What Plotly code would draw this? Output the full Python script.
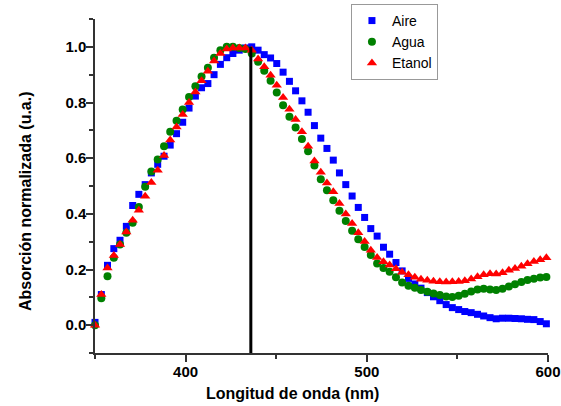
import plotly.graph_objects as go

wavelength_nm = [350.0, 353.5, 356.9, 360.4, 363.8, 367.3, 370.8, 374.2, 377.7, 381.1,
                 384.6, 388.1, 391.5, 395.0, 398.4, 401.9, 405.4, 408.8, 412.3, 415.7,
                 419.2, 422.7, 426.1, 429.6, 433.0, 436.5, 440.0, 443.4, 446.9, 450.3,
                 453.8, 457.3, 460.7, 464.2, 467.6, 471.1, 474.6, 478.0, 481.5, 484.9,
                 488.4, 491.9, 495.3, 498.8, 502.2, 505.7, 509.2, 512.6, 516.1, 519.5,
                 523.0, 526.5, 529.9, 533.4, 536.8, 540.3, 543.8, 547.2, 550.7, 554.1,
                 557.6, 561.1, 564.5, 568.0, 571.4, 574.9, 578.4, 581.8, 585.3, 588.7,
                 592.2, 595.7, 599.1]

aire = [0.01, 0.11, 0.215, 0.275, 0.305, 0.355, 0.43, 0.47, 0.505, 0.547,
        0.578, 0.607, 0.647, 0.688, 0.729, 0.78, 0.823, 0.853, 0.868, 0.90,
        0.937, 0.961, 0.976, 0.988, 0.996, 1.0, 0.988, 0.972, 0.96, 0.94,
        0.909, 0.876, 0.842, 0.806, 0.765, 0.717, 0.672, 0.635, 0.593, 0.547,
        0.505, 0.464, 0.423, 0.387, 0.347, 0.32, 0.28, 0.255, 0.225, 0.195,
        0.168, 0.148, 0.133, 0.117, 0.102, 0.088, 0.074, 0.063, 0.056, 0.049,
        0.045, 0.039, 0.033, 0.027, 0.023, 0.025, 0.025, 0.024, 0.023, 0.021,
        0.02, 0.013, 0.005]

agua = [0.0, 0.097, 0.176, 0.242, 0.29, 0.332, 0.368, 0.425, 0.497, 0.552,
        0.595, 0.643, 0.695, 0.734, 0.775, 0.82, 0.858, 0.893, 0.925, 0.961,
        0.988, 1.0, 1.0, 0.996, 0.992, 0.976, 0.946, 0.914, 0.878, 0.836,
        0.79, 0.749, 0.71, 0.669, 0.625, 0.574, 0.524, 0.485, 0.449, 0.411,
        0.374, 0.339, 0.309, 0.281, 0.252, 0.222, 0.205, 0.192, 0.172, 0.153,
        0.142, 0.134, 0.126, 0.12, 0.114, 0.108, 0.103, 0.101, 0.106, 0.113,
        0.121, 0.128, 0.131, 0.128, 0.126, 0.131, 0.139, 0.147, 0.155, 0.162,
        0.167, 0.171, 0.173]

etanol = [0.0, 0.11, 0.205, 0.25, 0.29, 0.335, 0.377, 0.413, 0.463, 0.513,
          0.557, 0.61, 0.665, 0.712, 0.757, 0.8, 0.838, 0.878, 0.912, 0.949,
          0.976, 0.992, 0.996, 0.996, 0.996, 0.988, 0.956, 0.928, 0.898, 0.862,
          0.818, 0.776, 0.739, 0.695, 0.643, 0.59, 0.549, 0.511, 0.479, 0.437,
          0.399, 0.365, 0.332, 0.301, 0.269, 0.243, 0.228, 0.216, 0.203, 0.19,
          0.181, 0.172, 0.165, 0.161, 0.158, 0.156, 0.155, 0.156, 0.157, 0.16,
          0.166, 0.174, 0.181, 0.185, 0.184, 0.188, 0.197, 0.204, 0.212, 0.221,
          0.229, 0.235, 0.242]

peak_line_x = [436.0, 436.0]
peak_line_y = [-0.1, 1.0]

series_names = ["Aire", "Agua", "Etanol"]
x_ticks = [400, 500, 600]
y_ticks = [0.0, 0.2, 0.4, 0.6, 0.8, 1.0]

FONT = "Arial, 'Liberation Sans', sans-serif"

fig = go.Figure()
styles = [("square", 7, "#0000FF", aire),
          ("circle", 8, "#008000", agua),
          ("triangle-up", 9, "#FF0000", etanol)]
for name, (sym, size, col, vals) in zip(series_names, styles):
    fig.add_trace(go.Scatter(
        x=wavelength_nm, y=vals, mode="markers", name=name,
        marker=dict(symbol=sym, size=size, color=col, line=dict(width=0)),
        cliponaxis=False))

fig.add_trace(go.Scatter(x=peak_line_x, y=peak_line_y, mode="lines",
                         line=dict(color="black", width=3), showlegend=False,
                         hoverinfo="skip"))

axis_common = dict(showgrid=False, zeroline=False, showline=True,
                   linecolor="#333333", linewidth=1.5, ticks="outside",
                   ticklen=7, tickwidth=1.5, tickcolor="#333333",
                   tickfont=dict(family=FONT, size=15, color="black", weight="bold"),
                   mirror=False, automargin=False, ticklabelstandoff=-3)

fig.update_xaxes(range=[350, 600], tickvals=x_ticks,
                 ticktext=[str(v) for v in x_ticks],
                 minor=dict(ticks="outside", ticklen=4, dtick=50, tick0=350,
                            tickcolor="#333333", tickwidth=1.5),
                 **axis_common)
fig.update_yaxes(range=[-0.1, 1.1], tickvals=y_ticks,
                 ticktext=[f"{v:.1f}" for v in y_ticks],
                 minor=dict(ticks="outside", ticklen=4, dtick=0.1, tick0=-0.1,
                            tickcolor="#333333", tickwidth=1.5),
                 **axis_common)

fig.update_layout(
    width=561, height=406,
    margin=dict(l=95, r=13, t=19, b=53, autoexpand=False),
    plot_bgcolor="white", paper_bgcolor="white",
    font=dict(family=FONT, color="black"),
    legend=dict(x=0.565, y=1.045, xanchor="left", yanchor="top",
                bgcolor="white", bordercolor="#999999", borderwidth=1,
                font=dict(family=FONT, size=14, color="black"),
                tracegroupgap=0, itemsizing="trace"),
    annotations=[
        dict(text="Longitud de onda (nm)", xref="paper", yref="paper",
             x=0.435, y=-0.12, xanchor="center", yanchor="middle",
             showarrow=False, font=dict(family=FONT, size=16, weight="bold")),
        dict(text="Absorción normalizada (u.a.)", xref="paper", yref="paper",
             x=-0.1545, y=0.455, xanchor="center", yanchor="middle",
             textangle=-90, showarrow=False,
             font=dict(family=FONT, size=16, weight="bold")),
    ],
)

fig.write_html("out.html", config={"displayModeBar": False},
               post_script="document.body.style.margin='0';"
                           "document.body.style.overflow='hidden';")
